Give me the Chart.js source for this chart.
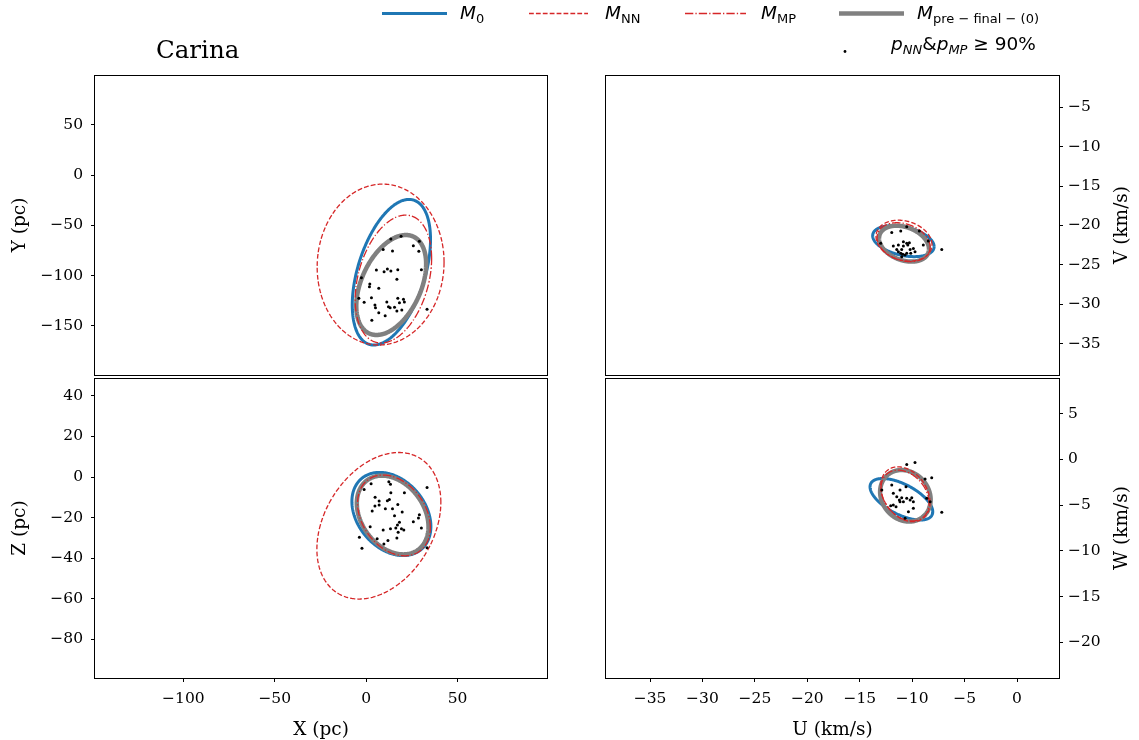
<!DOCTYPE html>
<html>
<head>
<meta charset="utf-8">
<script src="https://cdn.jsdelivr.net/npm/chart.js@4.4.1/dist/chart.umd.min.js"></script>
<style>
  body { margin: 0; background: #fff; width: 1139px; height: 740px; position: relative; overflow: hidden; }
  canvas { position: absolute; left: 0; top: 0; }
  .lg { position: absolute; font: 18.5px "DejaVu Sans"; line-height: 1; white-space: nowrap; color: #000; }
  .lg sub { font-size: 13px; vertical-align: -3.5px; line-height: 1; }
  #title { position: absolute; left: 156px; top: 38px; font: 24.5px "DejaVu Serif"; line-height: 1; }
</style>
</head>
<body>
<canvas id="xy" width="1139" height="740"></canvas>
<canvas id="xz" width="1139" height="740"></canvas>
<canvas id="uv" width="1139" height="740"></canvas>
<canvas id="uw" width="1139" height="740"></canvas>

<div id="title">Carina</div>

<svg style="position:absolute;left:0;top:0" width="1139" height="60">
  <line x1="382" y1="13.5" x2="447" y2="13.5" stroke="#1f77b4" stroke-width="3"/>
  <line x1="529" y1="13.5" x2="588" y2="13.5" stroke="#d62728" stroke-width="1.3" stroke-dasharray="4.8 2.1"/>
  <line x1="685" y1="13.5" x2="746" y2="13.5" stroke="#d62728" stroke-width="1.3" stroke-dasharray="8.3 2.1 1.3 2.1"/>
  <line x1="839" y1="13.5" x2="904" y2="13.5" stroke="#808080" stroke-width="4.5"/>
  <circle cx="845" cy="51.5" r="1.4" fill="#000"/>
</svg>
<div class="lg" style="left:460px;top:4px"><i>M</i><sub>0</sub></div>
<div class="lg" style="left:605px;top:4px"><i>M</i><sub>NN</sub></div>
<div class="lg" style="left:761px;top:4px"><i>M</i><sub>MP</sub></div>
<div class="lg" style="left:917px;top:4px"><i>M</i><sub>pre − final − (0)</sub></div>
<div class="lg" style="left:891px;top:35px"><i>p</i><sub><i>NN</i></sub>&amp;<i>p</i><sub><i>MP</i></sub> ≥ 90%</div>

<script>
// ellipse rows, in the order M0, MNN, MP, Mpre:
// [centre h, centre v, half width, half height, correlation]
const xyEllipses = [
  [13.8, -96.6, 21.4, 72.4, 0.45],
  [7.9, -89.0, 34.7, 80.0, 0.03],
  [14.9, -103.4, 20.9, 63.6, 0.32],
  [13.7, -109.3, 19.1, 49.7, 0.42]
];
const xzEllipses = [
  [13.8, -18.2, 21.6, 20.5, -0.3],
  [6.95, -24.0, 33.9, 36.1, 0.32],
  [15.2, -18.9, 19.9, 19.9, -0.3],
  [14.5, -18.7, 19.6, 19.4, -0.3]
];
const uvEllipses = [
  [-10.84, -22.0, 2.93, 1.97, -0.35],
  [-10.78, -21.94, 2.67, 2.6, -0.2],
  [-10.82, -22.13, 2.53, 2.47, -0.25],
  [-10.78, -22.32, 2.38, 2.28, -0.3]
];
const uwEllipses = [
  [-11.03, -4.36, 2.99, 2.27, -0.6],
  [-10.65, -3.81, 2.35, 3.0, -0.3],
  [-10.68, -3.95, 2.29, 2.78, -0.3],
  [-10.65, -3.98, 2.41, 2.82, -0.15]
];

// members with p_NN & p_MP >= 90%
const xyStars = [
  [13.5, -63.6], [19.1, -60.9], [29.1, -65.9], [9.3, -73.9], [14.4, -75.5], [25.8, -70.3],
  [28.8, -75.8], [5.6, -94.4], [9.8, -96.1], [11.6, -93.4], [13.5, -95.4], [17.3, -94.1],
  [-2.6, -102.1], [30.2, -94.1], [16.8, -103.7], [2.0, -108.3], [1.8, -111], [6.9, -112.6],
  [-4.0, -122.6], [-1.1, -126.5], [2.9, -122], [11.3, -126.2], [17.3, -122.6], [20.4, -123.6],
  [20.9, -126.2], [18.2, -126.9], [4.8, -129.2], [5.1, -131.9], [12.2, -130.9], [13.1, -131.9],
  [15.5, -131.5], [19.5, -134.2], [16.8, -135.2], [6.9, -136.9], [10.4, -139.9], [3.1, -144.4],
  [33.3, -133.5]
];
const xzStars = [
  [2.7, -3.3], [-1.1, -6.1], [12.4, -2.3], [13.3, -3.6], [33.3, -5.1], [4.9, -9.9],
  [13.5, -7.7], [20.9, -7.7], [7.1, -11.8], [11.6, -11.7], [12.7, -11], [4.8, -14.3],
  [7.1, -13.8], [17.3, -13.5], [3.3, -16.7], [10.5, -15.6], [14.4, -15.6], [19.7, -17.2],
  [15.5, -19.1], [29.1, -18.6], [28.6, -20.2], [25.8, -22], [18.2, -22.3], [17.1, -23.6],
  [2.2, -24.5], [30.2, -25.1], [9.3, -26.1], [13.3, -25.5], [16.2, -25.1], [19.3, -25.5],
  [20.6, -26.1], [17.5, -27.2], [-3.7, -29.6], [6.0, -30.4], [11.9, -31.2], [16.8, -30],
  [9.7, -33], [-2.3, -35.1], [33.3, -34.8]
];
const uvStars = [
  [-10.52, -20.16], [-11.95, -20.89], [-11.09, -20.71], [-9.32, -20.71], [-8.46, -21.98],
  [-13.0, -22.28], [-7.18, -23.05], [-11.8, -22.62], [-11.32, -22.49], [-10.84, -22.62],
  [-10.52, -22.28], [-10.27, -22.2], [-10.42, -22.49], [-11.47, -23.05], [-11.0, -23.05],
  [-10.2, -23.05], [-9.89, -22.92], [-9.73, -23.34], [-11.32, -23.34], [-11.09, -23.55],
  [-10.9, -23.68], [-10.52, -23.55], [-10.14, -23.55], [-11.0, -23.97], [-10.68, -23.76],
  [-8.94, -22.49], [-10.84, -22.07]
];
const uwStars = [
  [-10.52, -0.55], [-9.73, -0.33], [-8.77, -2.15], [-8.14, -2.0], [-7.18, -5.79],
  [-12.9, -3.35], [-11.95, -2.8], [-10.59, -2.99], [-11.16, -3.35], [-11.8, -3.71],
  [-11.47, -4.08], [-11.22, -4.44], [-11.0, -4.19], [-10.84, -4.62], [-10.52, -4.26],
  [-10.2, -4.44], [-10.04, -4.19], [-9.89, -4.62], [-11.16, -4.62], [-11.8, -4.99],
  [-12.05, -5.07], [-11.54, -5.17], [-10.36, -5.72], [-9.89, -5.35], [-8.61, -4.26],
  [-8.29, -4.63], [-10.68, -6.44]
];

// axis ranges and tick labels
const xRange = [-148.3, 98.9];
const yRange = [-198.8, 99.5];
const zRange = [-99, 48.8];
const uRange = [-39.2, 4.0];
const vRange = [-39.0, -0.9];
const wRange = [-23.9, 8.9];
const xTicks = [-100, -50, 0, 50];
const yTicks = [-150, -100, -50, 0, 50];
const zTicks = [-80, -60, -40, -20, 0, 20, 40];
const uTicks = [-35, -30, -25, -20, -15, -10, -5, 0];
const vTicks = [-35, -30, -25, -20, -15, -10, -5];
const wTicks = [-20, -15, -10, -5, 0, 5];

const W = 1139, H = 740;
Chart.defaults.font.family = "'DejaVu Serif'";
Chart.defaults.font.size = 15.5;
Chart.defaults.color = "#000";

const styles = [
  { color: "#1f77b4", width: 3, dash: [], order: 4 },
  { color: "#d62728", width: 1.3, dash: [4.8, 2.1], order: 2 },
  { color: "#d62728", width: 1.3, dash: [8.3, 2.1, 1.3, 2.1], order: 1 },
  { color: "#808080", width: 4.5, dash: [], order: 3 }
];

function ellipsePts(e) {
  const [cx, cy, sx, sy, rho] = e;
  const q = Math.sqrt(1 - rho * rho);
  const pts = [];
  for (let i = 0; i <= 180; i++) {
    const t = i / 180 * 2 * Math.PI;
    pts.push({ x: cx + sx * Math.cos(t), y: cy + sy * (rho * Math.cos(t) + q * Math.sin(t)) });
  }
  return pts;
}

const framePlugin = {
  id: "frame",
  afterDraw(chart) {
    const a = chart.chartArea, ctx = chart.ctx;
    ctx.save();
    ctx.strokeStyle = "#000";
    ctx.lineWidth = 1;
    ctx.strokeRect(Math.round(a.left) - 0.5, Math.round(a.top) + 0.5,
      Math.round(a.right - a.left) + 1, Math.round(a.bottom - a.top));
    ctx.restore();
  }
};

// right-hand axis titles read bottom to top like the left ones
const sideTitle = {
  id: "sideTitle",
  afterDraw(chart, args, opts) {
    if (!opts.text) return;
    const a = chart.chartArea, ctx = chart.ctx;
    ctx.save();
    ctx.translate(opts.x, (a.top + a.bottom) / 2);
    ctx.rotate(-Math.PI / 2);
    ctx.font = "18.5px 'DejaVu Serif'";
    ctx.fillStyle = "#000";
    ctx.textAlign = "center";
    ctx.textBaseline = "middle";
    ctx.fillText(opts.text, 0, 0);
    ctx.restore();
  }
};

const minus = v => String(v).replace("-", "\u2212");

function panel(id, area, ells, stars, xr, xt, xTitle, yr, yt, yTitle, side) {
  const [l, t, r, b] = area;
  const datasets = ells.map((e, i) => ({
    data: ellipsePts(e),
    showLine: true,
    pointRadius: 0,
    fill: false,
    tension: 0.001,
    borderJoinStyle: "round",
    borderColor: styles[i].color,
    borderWidth: styles[i].width,
    borderDash: styles[i].dash,
    order: styles[i].order
  }));
  datasets.push({
    data: stars.map(p => ({ x: p[0], y: p[1] })),
    pointRadius: 1.5,
    pointBorderWidth: 0,
    pointBackgroundColor: "#000",
    showLine: false,
    order: 0
  });
  const showX = !!xt;
  new Chart(document.getElementById(id), {
    type: "scatter",
    data: { datasets },
    options: {
      responsive: false,
      animation: false,
      events: [],
      layout: {
        padding: {
          left: side === "left" ? 0 : l,
          right: side === "left" ? W - r : 0,
          top: t,
          bottom: showX ? 0 : H - b
        }
      },
      plugins: {
        legend: { display: false },
        tooltip: { enabled: false },
        sideTitle: { text: side === "right" ? yTitle : "", x: 1122 }
      },
      scales: {
        x: {
          type: "linear",
          min: xr[0], max: xr[1],
          display: showX,
          afterFit: s => { if (showX) s.height = H - b; },
          afterBuildTicks: s => { if (xt) s.ticks = xt.map(v => ({ value: v })); },
          grid: { drawOnChartArea: false, drawTicks: true, tickLength: 4, color: "#000" },
          border: { display: false },
          ticks: { autoSkip: false, maxRotation: 0, padding: 8, callback: minus },
          title: { display: !!xTitle, text: xTitle, font: { size: 18.5 }, padding: { top: 0, bottom: -1 } }
        },
        y: {
          type: "linear",
          position: side,
          min: yr[0], max: yr[1],
          afterFit: s => { s.width = side === "left" ? l : W - r; },
          afterBuildTicks: s => { s.ticks = yt.map(v => ({ value: v })); },
          grid: { drawOnChartArea: false, drawTicks: true, tickLength: 4, color: "#000" },
          border: { display: false },
          ticks: { autoSkip: false, padding: side === "left" ? 8 : 5, callback: minus },
          title: { display: side === "left", text: yTitle, font: { size: 18.5 }, padding: { top: 9, bottom: 0 } }
        }
      }
    },
    plugins: [framePlugin, sideTitle]
  });
}

panel("xy", [95, 75, 547, 375], xyEllipses, xyStars, xRange, null, "", yRange, yTicks, "Y (pc)", "left");
panel("xz", [95, 378, 547, 678], xzEllipses, xzStars, xRange, xTicks, "X (pc)", zRange, zTicks, "Z (pc)", "left");
panel("uv", [606, 75, 1059, 375], uvEllipses, uvStars, uRange, null, "", vRange, vTicks, "V (km/s)", "right");
panel("uw", [606, 378, 1059, 678], uwEllipses, uwStars, uRange, uTicks, "U (km/s)", wRange, wTicks, "W (km/s)", "right");
</script>
</body>
</html>
